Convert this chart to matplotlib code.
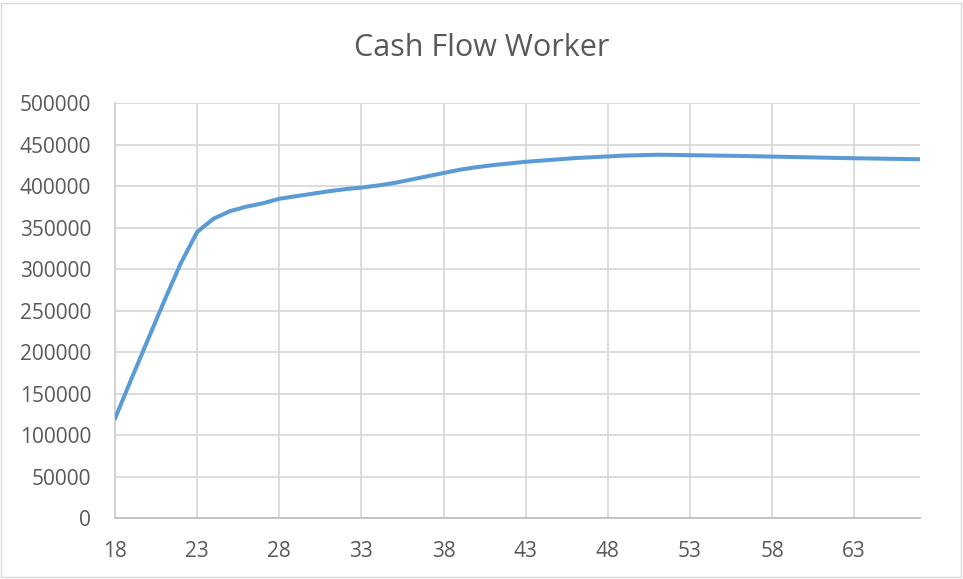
import matplotlib.pyplot as plt
from matplotlib.patches import Rectangle

# age of worker and cumulative cash flow
ages = list(range(18, 68))
cash = [120000, 168000, 215000, 262000, 307000, 345000, 361000, 370000, 375500, 379500,
        385000, 388000, 391000, 394000, 396500, 398500, 401000, 404000, 408000, 412000,
        416000, 420000, 423000, 425500, 427500, 429500, 431000, 432500, 434000, 435000,
        436000, 437000, 437500, 438000, 437800, 437500, 437200, 436900, 436600, 436200,
        435800, 435400, 435000, 434600, 434200, 433800, 433500, 433200, 432900, 432600]
xticks = list(range(18, 64, 5))
yticks = list(range(0, 500001, 50000))

txt = '#595959'
plt.rcParams['font.family'] = ['Open Sans', 'DejaVu Sans']

fig = plt.figure(figsize=(9.63, 5.79), dpi=100)
ax = fig.add_axes([0.1194, 0.1048, 0.8359, 0.7168])

ax.plot(ages, cash, color='#5b9bd5', lw=2.9, solid_capstyle='round',
        solid_joinstyle='round', zorder=3)

ax.set_xlim(18, 67)
ax.set_ylim(0, 500000)
ax.set_xticks(xticks)
ax.set_yticks(yticks)
ax.grid(True, color='#d9d9d9', lw=1.3)
ax.tick_params(length=0, labelsize=15, colors=txt)
ax.tick_params(axis='x', pad=16)
ax.tick_params(axis='y', pad=17)
for s in ['top', 'right']:
    ax.spines[s].set_visible(False)
ax.spines['left'].set_color('#d0d0d0')
ax.spines['bottom'].set_color('#bfbfbf')
ax.spines['bottom'].set_linewidth(1.3)
ax.spines['left'].set_linewidth(1.3)

fig.text(0.5, 1 - 48 / 579, 'Cash Flow Worker', ha='center', va='center', fontsize=22, color=txt)

fig.patches.append(Rectangle((0.001, 0.003), 0.997, 0.991, transform=fig.transFigure,
                             fill=False, edgecolor='#d9d9d9', lw=1))

fig.savefig('out.png', dpi=100)
